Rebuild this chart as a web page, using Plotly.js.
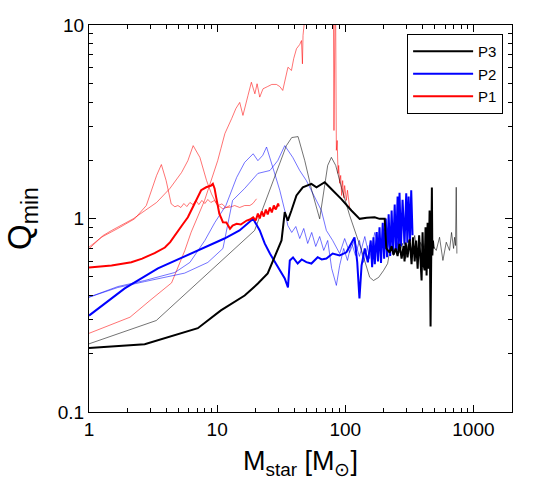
<!DOCTYPE html>
<html><head><meta charset="utf-8">
<script src="https://cdn.plot.ly/plotly-3.0.1.min.js"></script>
<style>html,body{margin:0;padding:0;background:#fff}#chart{width:550px;height:500px}</style>
</head><body><div id="chart"></div>
<script>
// P3 (black)
const p3ThickX = [1, 2.72, 7.07, 10.7, 16.4, 20.8, 24.8, 27.2, 31.8, 33.7, 35.6, 38.0, 41.6, 46.6, 54.4, 59.6, 69.1, 75.5, 93.3, 111.6, 129.5, 147, 169.5, 185, 203, 209,
  222, 230, 238, 247, 256, 265, 275, 285, 290, 296, 306, 318, 329, 338, 348, 357, 367, 377, 387, 394, 401, 408, 416, 423, 431, 439, 447, 455, 463, 469, 474, 478, 483, 489];
const p3ThickY = [0.214, 0.224, 0.271, 0.335, 0.400, 0.461, 0.520, 0.607, 0.770, 1.08, 0.976, 1.10, 1.315, 1.45, 1.51, 1.45, 1.54, 1.45, 1.26, 1.10, 0.996, 1.01, 1.015, 0.996, 0.996, 0.700,
  0.667, 0.72, 0.65, 0.70, 0.64, 0.74, 0.62, 0.72, 0.60, 0.75, 0.63, 0.78, 0.58, 0.80, 0.60, 0.77, 0.55, 0.82, 0.62, 0.478, 0.85, 0.58, 0.539, 0.90, 0.507, 0.95, 0.55, 1.10, 0.277, 1.24, 1.446, 0.644, 0.77, 0.70];
const p3ThinX = [1, 3.35, 19.6, 25.8, 34.7, 38.2, 42.8, 48.3, 54.7, 63.1, 67.9, 72.9, 77.9, 84.2, 93.3, 108, 134, 155, 166, 182,
  199, 214, 226, 238, 252, 265, 280, 296, 312, 329, 348, 367, 387, 408, 431, 455, 480, 513, 544, 578, 614, 651, 675, 700, 713, 725, 734, 743];
const p3ThinY = [0.225, 0.297, 0.867, 1.41, 2.38, 2.62, 2.65, 1.99, 1.40, 0.996, 1.40, 1.88, 2.07, 1.88, 1.45, 1.04, 0.684, 0.497, 0.478, 0.496,
  0.539, 0.585, 0.725, 0.644, 0.770, 0.667, 0.743, 0.621, 0.770, 0.684, 0.817, 0.644, 0.752, 0.684, 0.788, 0.644, 0.725, 0.684, 0.800, 0.607, 0.754, 0.684, 0.847, 0.700, 0.800, 0.725, 1.45, 0.659];

// P2 (blue)
const p2ThickX = [1, 1.90, 3.45, 6.66, 11.4, 14.95, 17.0, 19.1, 21.5, 23.5, 25.8, 30.8, 33.7, 35.7, 36.9, 39.1, 42.5, 45.7, 49.7, 54.4,
  60.9, 65.5, 71.2, 79.7, 90.4, 102, 110, 118, 124, 129, 134, 142, 150, 158, 162, 166, 170, 176, 180, 185, 190, 196, 201, 207, 212, 218, 224,
  230, 236, 243, 249, 256, 261, 265, 272, 280, 290, 299, 305, 312, 320, 327, 335];
const p2ThickY = [0.315, 0.435, 0.552, 0.669, 0.788, 0.867, 0.931, 0.996, 0.867, 0.743, 0.659, 0.539, 0.490, 0.440, 0.607, 0.629, 0.585, 0.614, 0.595, 0.585,
  0.631, 0.614, 0.621, 0.659, 0.644, 0.669, 0.734, 0.798, 0.593, 0.386, 0.572, 0.700, 0.593, 0.770, 0.56, 0.80, 0.58, 0.85, 0.60, 0.90, 0.59, 0.95, 0.62, 1.0, 0.63, 1.05, 0.64,
  1.10, 0.66, 1.18, 0.68, 1.30, 0.70, 1.36, 0.72, 1.25, 0.74, 1.35, 0.75, 1.30, 0.76, 1.40, 0.82];
const p2ThinAX = [1, 1.68, 2.72, 4.68, 6.13, 8.02, 9.60, 11.7, 14.2, 16.4, 19.1, 20.8, 22.7, 24.3, 27.2, 30.8, 33.7, 35.6, 38.2, 41.1,
  44.1, 47.4, 50.9, 54.7, 58.8, 63.1, 67.9, 72.9, 78.3, 85.2, 90.4, 97.2, 104, 112, 120, 129, 139, 150];
const p2ThinAY = [0.392, 0.445, 0.478, 0.526, 0.593, 0.770, 0.954, 1.167, 1.63, 1.95, 2.16, 1.99, 2.12, 2.34, 1.835, 1.40, 1.10, 0.920, 0.847, 0.909,
  0.788, 0.888, 0.743, 0.847, 0.717, 0.807, 0.684, 0.770, 0.552, 0.451, 0.572, 0.700, 0.607, 0.752, 0.644, 0.770, 0.593, 0.725];
const p2ThinBX = [1, 1.68, 2.72, 5.57, 8.46, 11.1, 13.2, 16.4, 20.8, 25.8, 29.7, 33.7, 38.9, 44.1, 49.7, 55.7, 65.1, 71.2, 79.7, 90.4,
  98.9, 108, 118, 129, 142, 155, 170, 185, 203, 222, 243, 256, 275, 290];
const p2ThinBY = [0.392, 0.440, 0.472, 0.522, 0.593, 0.700, 1.24, 1.43, 1.71, 1.77, 1.99, 2.38, 2.07, 1.77, 1.57, 1.35, 1.10, 0.867, 0.770, 0.659,
  0.788, 0.667, 0.770, 0.637, 0.807, 0.621, 0.847, 0.684, 0.888, 0.700, 0.976, 0.684, 1.036, 0.725];

// P1 (red)
const p1ThickX = [1, 1.5, 2.14, 2.6, 3.25, 3.6, 3.91, 4.3, 4.65, 5.0, 5.31, 5.91, 6.66, 7.50, 8.21, 8.98, 9.26, 9.55, 9.82, 10.4, 11.1, 11.8, 12.6, 13.2, 14.2,
  15.3, 17.0, 18.0, 19.1, 20.0, 20.8, 21.5, 22.3, 23.1, 24.0, 24.8, 25.8, 26.7, 27.7, 28.7, 29.9, 30.3];
const p1ThickY = [0.558, 0.572, 0.594, 0.620, 0.663, 0.685, 0.708, 0.755, 0.817, 0.865, 0.920, 1.015, 1.19, 1.40, 1.45, 1.48, 1.51, 1.43, 1.29, 1.06, 0.957, 0.954, 0.885, 0.920, 0.939,
  0.931, 0.976, 0.988, 1.015, 0.976, 1.06, 1.0, 1.087, 1.024, 1.113, 1.049, 1.14, 1.074, 1.167, 1.113, 1.195, 1.153];
const p1ThinAX = [1, 1.25, 1.68, 2.27, 2.80, 3.15, 3.37, 3.67, 4.00, 4.38, 4.68, 4.94, 5.21, 5.50, 5.80, 6.13, 6.47, 6.82, 7.20, 7.60,
  8.02, 8.46, 8.93, 9.55, 10.1, 10.9, 11.7, 12.6, 13.7, 15.0, 16.4, 18.0, 19.0, 20.3];
const p1ThinAY = [0.711, 0.800, 0.888, 0.996, 1.167, 1.45, 1.67, 1.90, 1.57, 1.19, 1.15, 1.167, 1.14, 1.195, 1.153, 1.21, 1.18, 1.24, 1.18, 1.24,
  1.195, 1.254, 1.21, 1.24, 1.167, 1.19, 1.14, 1.144, 1.167, 1.14, 1.167, 1.167, 1.195, 1.264];
const p1ThinBX = [1, 1.29, 1.50, 2.21, 3.37, 4.28, 5.28, 5.91, 6.50, 7.33, 8.27, 9.04, 9.89, 11.1, 12.6];
const p1ThinBY = [0.697, 0.817, 0.867, 0.996, 1.21, 1.43, 1.73, 1.99, 2.38, 2.07, 1.57, 1.34, 1.19, 1.12, 1.167];
const p1ThinCX = [1, 2.09, 2.99, 4.41, 5.60, 6.27, 7.98, 9.26, 10.1, 10.7, 11.5, 13.0, 14.0, 15.0, 15.9, 17.4, 18.5, 19.7, 20.5, 21.5,
  22.8, 24.8, 26.7, 29.0, 30.8, 32.5, 34.3, 35.7, 38.0, 39.6, 41.6, 44.1, 45.5, 46.3, 46.8, 48.3, 54.7, 69.1, 80.5, 81.6,
  82.2, 83.7, 85.2, 86.5, 87.8, 88.8, 90.4, 92.1, 93.7, 95.4, 97.2, 98.9, 102, 104, 108];
const p1ThinCY = [0.255, 0.309, 0.377, 0.465, 0.684, 0.850, 1.24, 1.67, 1.99, 2.30, 2.75, 3.29, 3.70, 3.98, 3.41, 4.32, 5.06, 4.41, 4.97, 4.24,
  4.68, 4.81, 4.93, 4.93, 4.81, 4.59, 5.29, 6.05, 5.82, 6.71, 7.54, 7.93, 8.31, 6.30, 8.83, 10.5, 25, 40, 20, 2.85,
  20, 20, 2.25, 2.53, 1.71, 1.88, 1.52, 1.67, 1.315, 1.57, 1.28, 1.48, 1.24, 1.40, 1.144];

const seriesNames = ['P3', 'P2', 'P1'];
const BLACK = '#000000', BLUE = '#0000ff', RED = '#ff0000';

function thin(x, y, color) {
  return {x: x, y: y, type: 'scatter', mode: 'lines', line: {color: color, width: 1}, opacity: 0.55, showlegend: false, hoverinfo: 'skip'};
}
function thick(x, y, color, name, rank) {
  return {x: x, y: y, type: 'scatter', mode: 'lines', line: {color: color, width: 2}, name: name, legendrank: rank};
}

const traces = [
  thin(p1ThinCX, p1ThinCY, RED),
  thin(p1ThinAX, p1ThinAY, RED),
  thin(p1ThinBX, p1ThinBY, RED),
  thin(p2ThinAX, p2ThinAY, BLUE),
  thin(p2ThinBX, p2ThinBY, BLUE),
  thin(p3ThinX, p3ThinY, BLACK),
  thick(p2ThickX, p2ThickY, BLUE, seriesNames[1], 2),
  thick(p1ThickX, p1ThickY, RED, seriesNames[2], 3),
  thick(p3ThickX, p3ThickY, BLACK, seriesNames[0], 1)
];

const axisCommon = {
  type: 'log', showline: true, linecolor: 'black', linewidth: 1, mirror: 'ticks',
  ticks: 'inside', ticklen: 7, tickcolor: 'black', tickwidth: 1,
  tickmode: 'linear', tick0: 0, dtick: 1, exponentformat: 'none',
  showgrid: false, zeroline: false,
  minor: {ticks: 'inside', ticklen: 4, tickcolor: 'black', dtick: 'D1', showgrid: false},
  tickfont: {size: 19, color: 'black'}
};

const layout = {
  width: 550, height: 500,
  margin: {l: 89, r: 38, t: 25, b: 88},
  paper_bgcolor: 'white', plot_bgcolor: 'white',
  font: {family: '"Liberation Sans", Arial, sans-serif', color: 'black', size: 19},
  xaxis: Object.assign({}, axisCommon, {
    range: [0, Math.log10(2000)],
    title: {text: 'M<sub>star</sub> [M<sub>⊙</sub>]', font: {size: 27}, standoff: 12}
  }),
  yaxis: Object.assign({}, axisCommon, {
    range: [-1, 1],
    title: {text: 'Q<sub>min</sub>', font: {size: 33}, standoff: 16}
  }),
  legend: {
    x: 0.979, xanchor: 'right', y: 0.977, yanchor: 'top',
    bgcolor: 'white', bordercolor: 'black', borderwidth: 1,
    font: {size: 15}, itemwidth: 60, tracegroupgap: 0
  },
  showlegend: true
};

Plotly.newPlot('chart', traces, layout, {displayModeBar: false, staticPlot: true});
</script>
</body></html>
